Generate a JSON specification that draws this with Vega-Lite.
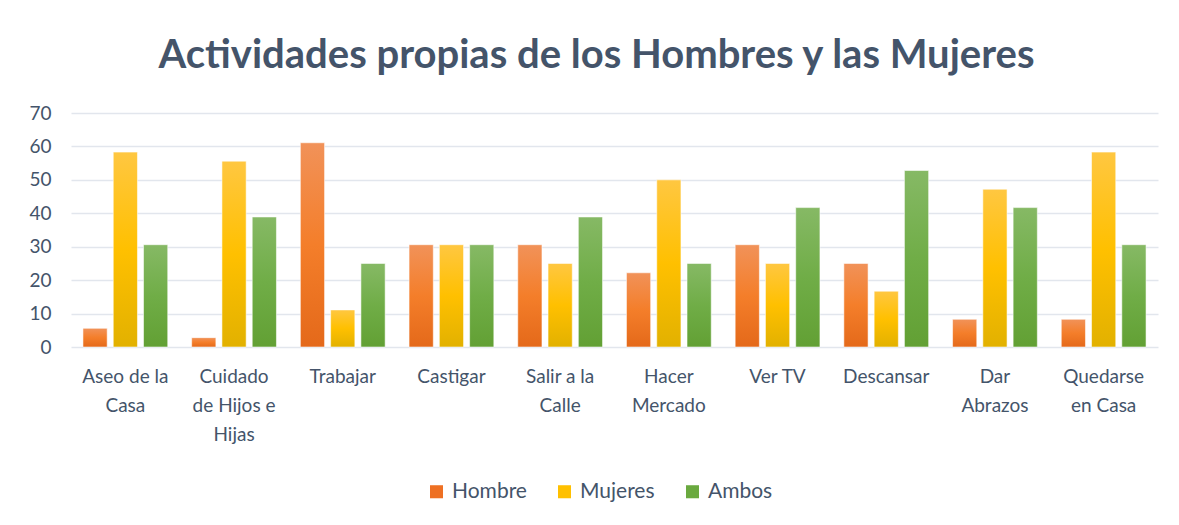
{
  "$schema": "https://vega.github.io/schema/vega-lite/v6.json",
  "width": 1087,
  "height": 234,
  "autosize": {"type": "none"},
  "padding": {"left": 71, "top": 113, "right": 21, "bottom": 178},
  "background": "white",
  "title": {
    "text": "Actividades propias de los Hombres y las Mujeres",
    "font": "Lato",
    "fontSize": 40,
    "fontWeight": "bold",
    "color": "#44546A",
    "anchor": "middle",
    "dx": -18,
    "offset": 28
  },
  "data": {
    "values": [
      {"actividad": "Aseo de la Casa", "serie": "Hombre", "valor": 5.6},
      {"actividad": "Aseo de la Casa", "serie": "Mujeres", "valor": 58.3},
      {"actividad": "Aseo de la Casa", "serie": "Ambos", "valor": 30.6},
      {"actividad": "Cuidado de Hijos e Hijas", "serie": "Hombre", "valor": 2.8},
      {"actividad": "Cuidado de Hijos e Hijas", "serie": "Mujeres", "valor": 55.6},
      {"actividad": "Cuidado de Hijos e Hijas", "serie": "Ambos", "valor": 38.9},
      {"actividad": "Trabajar", "serie": "Hombre", "valor": 61.1},
      {"actividad": "Trabajar", "serie": "Mujeres", "valor": 11.1},
      {"actividad": "Trabajar", "serie": "Ambos", "valor": 25.0},
      {"actividad": "Castigar", "serie": "Hombre", "valor": 30.6},
      {"actividad": "Castigar", "serie": "Mujeres", "valor": 30.6},
      {"actividad": "Castigar", "serie": "Ambos", "valor": 30.6},
      {"actividad": "Salir a la Calle", "serie": "Hombre", "valor": 30.6},
      {"actividad": "Salir a la Calle", "serie": "Mujeres", "valor": 25.0},
      {"actividad": "Salir a la Calle", "serie": "Ambos", "valor": 38.9},
      {"actividad": "Hacer Mercado", "serie": "Hombre", "valor": 22.2},
      {"actividad": "Hacer Mercado", "serie": "Mujeres", "valor": 50.0},
      {"actividad": "Hacer Mercado", "serie": "Ambos", "valor": 25.0},
      {"actividad": "Ver TV", "serie": "Hombre", "valor": 30.6},
      {"actividad": "Ver TV", "serie": "Mujeres", "valor": 25.0},
      {"actividad": "Ver TV", "serie": "Ambos", "valor": 41.7},
      {"actividad": "Descansar", "serie": "Hombre", "valor": 25.0},
      {"actividad": "Descansar", "serie": "Mujeres", "valor": 16.7},
      {"actividad": "Descansar", "serie": "Ambos", "valor": 52.8},
      {"actividad": "Dar Abrazos", "serie": "Hombre", "valor": 8.3},
      {"actividad": "Dar Abrazos", "serie": "Mujeres", "valor": 47.2},
      {"actividad": "Dar Abrazos", "serie": "Ambos", "valor": 41.7},
      {"actividad": "Quedarse en Casa", "serie": "Hombre", "valor": 8.3},
      {"actividad": "Quedarse en Casa", "serie": "Mujeres", "valor": 58.3},
      {"actividad": "Quedarse en Casa", "serie": "Ambos", "valor": 30.6}
    ]
  },
  "mark": {"type": "bar", "stroke": "white", "strokeOpacity": 0.55, "strokeWidth": 1},
  "encoding": {
    "x": {
      "field": "actividad",
      "type": "nominal",
      "sort": null,
      "scale": {"paddingInner": 0.22, "paddingOuter": 0.11},
      "axis": {
        "title": null,
        "labelAngle": 0,
        "labelFont": "Lato",
        "labelFontSize": 19,
        "labelColor": "#44546A",
        "labelLineHeight": 29,
        "labelBaseline": "top",
        "labelPadding": 20,
        "labelLimit": 0,
        "domain": false,
        "ticks": false,
        "labelExpr": "datum.label == 'Aseo de la Casa' ? ['Aseo de la', 'Casa'] : datum.label == 'Cuidado de Hijos e Hijas' ? ['Cuidado', 'de Hijos e', 'Hijas'] : datum.label == 'Salir a la Calle' ? ['Salir a la', 'Calle'] : datum.label == 'Hacer Mercado' ? ['Hacer', 'Mercado'] : datum.label == 'Dar Abrazos' ? ['Dar', 'Abrazos'] : datum.label == 'Quedarse en Casa' ? ['Quedarse', 'en Casa'] : datum.label"
      }
    },
    "xOffset": {
      "field": "serie",
      "type": "nominal",
      "sort": ["Hombre", "Mujeres", "Ambos"],
      "scale": {"domain": ["Hombre", "Mujeres", "Ambos"], "paddingInner": 0.2, "paddingOuter": 0}
    },
    "y": {
      "field": "valor",
      "type": "quantitative",
      "scale": {"domain": [0, 70], "nice": false},
      "axis": {
        "title": null,
        "values": [0, 10, 20, 30, 40, 50, 60, 70],
        "labelFont": "Lato",
        "labelFontSize": 19,
        "labelColor": "#44546A",
        "labelPadding": 20,
        "domain": false,
        "ticks": false,
        "grid": true,
        "gridColor": "#E2E6ED",
        "gridWidth": 1.5
      }
    },
    "color": {
      "condition": [
        {"test": "datum.serie === 'Hombre'", "value": {"gradient": "linear", "x1": 0, "y1": 0, "x2": 0, "y2": 1, "stops": [{"offset": 0, "color": "#F19259"}, {"offset": 0.5, "color": "#F47E2A"}, {"offset": 1, "color": "#E4691A"}]}},
        {"test": "datum.serie === 'Mujeres'", "value": {"gradient": "linear", "x1": 0, "y1": 0, "x2": 0, "y2": 1, "stops": [{"offset": 0, "color": "#FFC741"}, {"offset": 0.5, "color": "#FFC000"}, {"offset": 1, "color": "#E2B100"}]}},
        {"test": "datum.serie === 'Ambos'", "value": {"gradient": "linear", "x1": 0, "y1": 0, "x2": 0, "y2": 1, "stops": [{"offset": 0, "color": "#86B965"}, {"offset": 0.5, "color": "#70AD47"}, {"offset": 1, "color": "#62A034"}]}}
      ],
      "field": "serie",
      "type": "nominal",
      "sort": ["Hombre", "Mujeres", "Ambos"],
      "scale": {"domain": ["Hombre", "Mujeres", "Ambos"], "range": ["#EE7023", "#FFC000", "#6AA93F"]},
      "legend": {
        "title": null,
        "orient": "none",
        "direction": "horizontal",
        "legendX": 355,
        "legendY": 368,
        "symbolType": "square",
        "symbolSize": 170,
        "symbolStrokeWidth": 0,
        "labelFont": "Lato",
        "labelFontSize": 21,
        "labelColor": "#44546A",
        "columnPadding": 27,
        "labelOffset": 5
      }
    }
  },
  "config": {"view": {"stroke": null}}
}
